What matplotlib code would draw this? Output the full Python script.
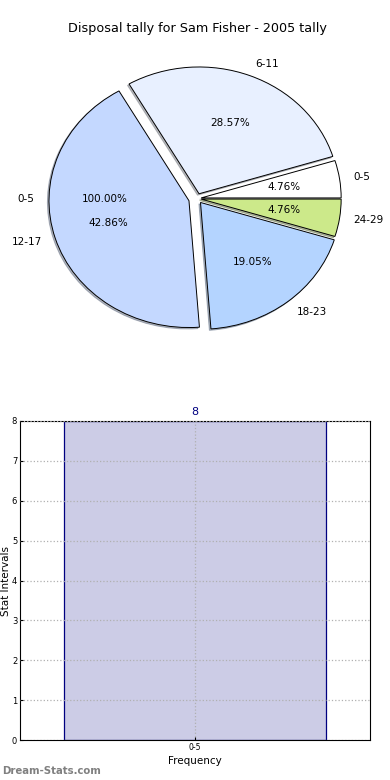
import matplotlib.pyplot as plt

# pie data: disposal counts per interval
pie_labels = ['0-5', '6-11', '12-17', '18-23', '24-29']
pie_counts = [1, 6, 9, 4, 1]
pie_colors = ['#ffffff', '#e8f0ff', '#c4d8ff', '#b4d4ff', '#cce98a']
pie_explode = [0.03, 0.04, 0.06, 0.04, 0.03]

# the extra single-slice pie that only leaves its labels behind
extra_labels = ['0-5']
extra_counts = [1]
extra_explode = [0.06]

# bar data
bar_labels = ['0-5']
bar_values = [8]

fig = plt.figure(figsize=(3.9, 7.8), dpi=100)

#top pie
ax1 = fig.add_axes([22/390, 1 - 357/780, 350/390, 317/780])
wedges, txts, autotxts = ax1.pie(extra_counts, labels=extra_labels, autopct='%1.2f%%',
                                 explode=extra_explode, textprops={'fontsize': 7.5})
for w in wedges:
    w.set_visible(False)
wedges, txts, autotxts = ax1.pie(pie_counts, labels=pie_labels, colors=pie_colors,
                                 explode=pie_explode, autopct='%1.2f%%',
                                 shadow={'ox': -0.008, 'oy': -0.008, 'shade': 0.5},
                                 wedgeprops={'edgecolor': 'black', 'linewidth': 0.7},
                                 textprops={'fontsize': 7.5})
ax1.set_aspect('auto')
ax1.set_xlim(-1.25, 1.25)
ax1.set_ylim(-1.25, 1.25)
ax1.set_title('Disposal tally for Sam Fisher - 2005 tally', fontsize=9.2, pad=5.5)

#bottom bar chart
ax2 = fig.add_axes([20/390, 40/780, 350/390, 319/780])
x_position = list(range(len(bar_labels)))
ax2.bar(x_position, bar_values, width=0.8, color='#cccce6', edgecolor='#000080', linewidth=0.9)
for xp, v in zip(x_position, bar_values):
    ax2.text(xp, v + 0.1, str(v), ha='center', va='bottom', color='#000080', fontsize=8)
ax2.set_xlim(-0.535, 0.535)
ax2.set_ylim(0, 8)
ax2.set_xticks(x_position)
ax2.set_xticklabels(bar_labels, fontsize=5.5)
ax2.set_yticks(range(0, 9))
ax2.tick_params(axis='y', labelsize=6, length=2, direction='in', pad=2)
ax2.tick_params(axis='x', length=2, direction='in', pad=2)
ax2.grid(True, linestyle=':', color='#b0b0b0', linewidth=0.9)
ax2.set_axisbelow(False)
ax2.set_xlabel('Frequency', fontsize=7.5, labelpad=3)
ax2.set_ylabel('Stat Intervals', fontsize=7.5, labelpad=0)
ax2.yaxis.set_label_coords(-0.027, 0.5)

fig.text(2/390, 1 - 771/780, 'Dream-Stats.com', fontsize=7.3, color='#808080',
         fontweight='bold', va='center', ha='left')

plt.savefig('out.png', dpi=100)
